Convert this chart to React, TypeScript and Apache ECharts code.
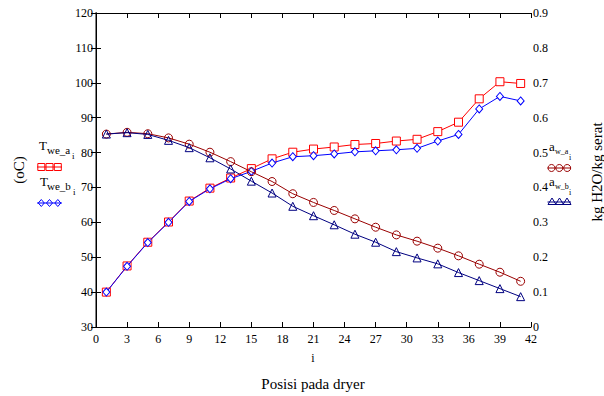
import React, { useEffect, useRef } from "react";
import * as echarts from "echarts";

const positions = [1, 3, 5, 7, 9, 11, 13, 15, 17, 19, 21, 23, 25, 27, 29, 31, 33, 35, 37, 39, 41];
const tweA = [40.0, 47.5, 54.3, 60.1, 66.1, 69.8, 72.7, 75.4, 78.2, 80.1, 81.0, 81.6, 82.3, 82.6, 83.3, 83.8, 86.0, 88.7, 95.4, 100.3, 99.8];
const tweB = [40.0, 47.4, 54.2, 60.0, 66.0, 69.6, 72.5, 74.6, 77.0, 78.8, 79.1, 79.6, 80.2, 80.5, 80.8, 81.2, 83.3, 85.2, 92.5, 96.1, 94.8];
const awA = [0.553, 0.558, 0.554, 0.542, 0.524, 0.501, 0.474, 0.445, 0.417, 0.382, 0.357, 0.334, 0.310, 0.286, 0.264, 0.246, 0.226, 0.204, 0.180, 0.157, 0.131];
const awB = [0.553, 0.557, 0.552, 0.535, 0.514, 0.485, 0.453, 0.418, 0.384, 0.346, 0.319, 0.293, 0.266, 0.243, 0.216, 0.198, 0.181, 0.156, 0.133, 0.110, 0.087];

const FONT = "Liberation Serif";
const RED = "#ff0000";
const BLUE = "#0000ff";
const DARKRED = "#990000";
const NAVY = "#000080";

function pairs(vals: number[]) {
  return positions.map((p, i) => [p, vals[i]]);
}

function txt(text: string, x: number, y: number, size: number, extra: any = {}) {
  return {
    type: "text",
    x,
    y,
    style: {
      text,
      fontSize: size,
      fontFamily: FONT,
      fill: "#000",
      verticalAlign: "middle",
      align: "left",
      ...extra,
    },
  };
}

function legendSample(kind: string, color: string, y: number, xs: number[], x0: number, x1: number) {
  const els: any[] = [
    { type: "line", shape: { x1: x0, y1: y, x2: x1, y2: y }, style: { stroke: color, lineWidth: 1 } },
  ];
  xs.forEach((cx) => {
    if (kind === "rect") {
      els.push({ type: "rect", shape: { x: cx - 3.5, y: y - 3.5, width: 7, height: 7 }, style: { stroke: color, fill: "none", lineWidth: 1 } });
    } else if (kind === "diamond") {
      els.push({ type: "polygon", shape: { points: [[cx, y - 3.5], [cx + 3, y], [cx, y + 3.5], [cx - 3, y]] }, style: { stroke: color, fill: "none", lineWidth: 1 } });
    } else if (kind === "circle") {
      els.push({ type: "circle", shape: { cx, cy: y, r: 3.5 }, style: { stroke: color, fill: "none", lineWidth: 1 } });
    } else {
      els.push({ type: "polygon", shape: { points: [[cx, y - 4], [cx + 4, y + 2.5], [cx - 4, y + 2.5]] }, style: { stroke: color, fill: "none", lineWidth: 1 } });
    }
  });
  return els;
}

export default function App() {
  const ref = useRef<HTMLDivElement>(null);
  useEffect(() => {
    if (!ref.current) return;
    const chart = echarts.init(ref.current, undefined, { renderer: "svg" });
    const labelStyle = { color: "#000", fontSize: 12, fontFamily: FONT };
    const option: any = {
      animation: false,
      backgroundColor: "#fff",
      textStyle: { fontFamily: FONT },
      grid: { left: 96, right: 73, top: 13, bottom: 69 },
      xAxis: [
        {
          type: "value",
          min: 0,
          max: 42,
          interval: 3,
          position: "bottom",
          axisLine: { lineStyle: { color: "#000", width: 1 } },
          axisTick: { inside: true, length: 5, lineStyle: { color: "#000" } },
          axisLabel: { ...labelStyle, margin: 6 },
          splitLine: { show: false },
        },
        {
          type: "value",
          min: 0,
          max: 42,
          interval: 3,
          position: "top",
          axisLine: { lineStyle: { color: "#000", width: 1 } },
          axisTick: { inside: true, length: 5, lineStyle: { color: "#000" } },
          axisLabel: { show: false },
          splitLine: { show: false },
        },
      ],
      yAxis: [
        {
          type: "value",
          min: 30,
          max: 120,
          interval: 10,
          position: "left",
          axisLine: { show: true, lineStyle: { color: "#808080", width: 2 } },
          axisTick: { show: true, inside: true, length: 5, lineStyle: { color: "#000" } },
          axisLabel: { ...labelStyle, margin: 3 },
          splitLine: { show: false },
        },
        {
          type: "value",
          min: 0,
          max: 0.9,
          interval: 0.1,
          position: "right",
          axisLine: { show: true, lineStyle: { color: "#000", width: 1 } },
          axisTick: { show: true, inside: true, length: 5, lineStyle: { color: "#000" } },
          axisLabel: {
            ...labelStyle,
            margin: 2,
            formatter: (v: number) => (v === 0 ? "0" : String(+v.toFixed(1))),
          },
          splitLine: { show: false },
        },
      ],
      series: [
        {
          name: "Twe_a",
          type: "line",
          yAxisIndex: 0,
          data: pairs(tweA),
          symbol: "rect",
          symbolSize: 8,
          itemStyle: { color: "#fff", borderColor: RED, borderWidth: 1 },
          lineStyle: { color: RED, width: 1 },
          z: 2,
        },
        {
          name: "Twe_b",
          type: "line",
          yAxisIndex: 0,
          data: pairs(tweB),
          symbol: "diamond",
          symbolSize: [7, 8],
          itemStyle: { color: "#fff", borderColor: BLUE, borderWidth: 1 },
          lineStyle: { color: BLUE, width: 1 },
          z: 3,
        },
        {
          name: "aw_a",
          type: "line",
          yAxisIndex: 1,
          data: pairs(awA),
          symbol: "circle",
          symbolSize: 8,
          itemStyle: { color: "none", borderColor: DARKRED, borderWidth: 1 },
          lineStyle: { color: DARKRED, width: 1 },
          z: 4,
        },
        {
          name: "aw_b",
          type: "line",
          yAxisIndex: 1,
          data: pairs(awB),
          symbol: "triangle",
          symbolSize: 8,
          itemStyle: { color: "none", borderColor: NAVY, borderWidth: 1 },
          lineStyle: { color: NAVY, width: 1 },
          z: 5,
        },
      ],
      graphic: [
        {
          type: "text",
          x: 19,
          y: 170,
          rotation: Math.PI / 2,
          style: { text: "(oC)", fontSize: 15, fontFamily: FONT, fill: "#000", align: "center", verticalAlign: "middle" },
        },
        {
          type: "text",
          x: 597,
          y: 172,
          rotation: Math.PI / 2,
          style: { text: "kg H2O/kg serat", fontSize: 15, fontFamily: FONT, fill: "#000", align: "center", verticalAlign: "middle" },
        },
        txt("i", 313, 358, 12, { align: "center" }),
        txt("Posisi pada dryer", 313, 384, 15, { align: "center" }),
        // left legend
        txt("T", 39, 145, 13),
        txt("we_a", 47, 150, 11),
        txt("i", 72, 156, 9),
        ...legendSample("rect", RED, 167, [41.3, 49.5, 57.8], 37, 62),
        txt("T", 40, 181, 13),
        txt("we_b", 47, 186, 11),
        txt("i", 73, 192, 9),
        ...legendSample("diamond", BLUE, 203, [41.3, 49.5, 57.8], 37, 62),
        // right legend
        txt("a", 549, 146, 13),
        txt("w_a", 555, 151, 8),
        txt("i", 569, 157, 8),
        ...legendSample("circle", DARKRED, 168, [551.5, 559.3, 567.2], 547.5, 571),
        txt("a", 549, 181, 13),
        txt("w_b", 555, 186, 8),
        txt("i", 569, 192, 8),
        ...legendSample("triangle", NAVY, 202, [552, 559.5, 567], 547.5, 571),
      ],
    };
    chart.setOption(option);
    return () => chart.dispose();
  }, []);
  return <div ref={ref} style={{ position: "fixed", left: 0, top: 0, width: 604, height: 396 }} />;
}
